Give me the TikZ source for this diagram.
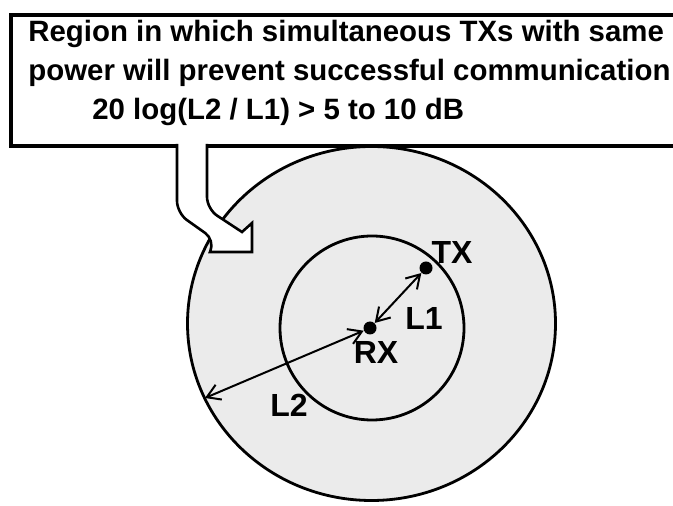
\documentclass[tikz,border=0pt]{standalone}
\usepackage{fontspec}
\setmainfont{Liberation Sans}
\usepackage{xcolor}
\usetikzlibrary{arrows.meta,positioning}

\begin{document}
\begin{tikzpicture}[
  x=0.5pt, y=-0.5pt,
  font=\fontsize{14.7}{17}\selectfont\bfseries,
  zone/.style={draw, line width=1.4pt, fill=black!8},
  dot/.style={circle, fill=black, inner sep=0pt, minimum size=6.5pt},
  lbl/.style={inner sep=0pt, font=\fontsize{16}{18}\selectfont\bfseries},
  line/.style={anchor=base west, inner sep=0pt},
  dimarrow/.style={{Straight Barb[length=6.5pt,width=8pt]}-{Straight Barb[length=6.5pt,width=8pt]}, line width=1pt},
  pointer/.style={draw, fill=white, line width=1.3pt, line join=miter}
]
\useasboundingbox (0,0) rectangle (673,506);

% region with the two ranges
\draw[zone] (371.5,323.5) ellipse [x radius=184, y radius=177];
\draw[zone] (372,328) circle [radius=92];

\node[dot] (rx) at (370,328) {};
\node[dot] (tx) at (426,268) {};
\coordinate (rim) at (205,398);

\draw[dimarrow] (rx) -- (tx);
\draw[dimarrow] (rim) -- (rx);

\node[lbl] (txlabel) at (452,252) {TX};
\node[lbl] (rxlabel) at (376,352) {RX};
\node[lbl] (l1) at (424,318) {L1};
\node[lbl] (l2) at (289,405) {L2};

% note box
\node[draw, line width=2pt, anchor=north west, minimum width=340pt,
  minimum height=65.5pt, inner sep=0pt] (note) at (9,13) {};
\node[line] (first) at (28,42) {Region in which simultaneous TXs with same};
\node[line] (second) at (28,81) {power will prevent successful communication};
\node[line] (third) at (92,120) {20 log(L2 / L1) > 5 to 10 dB};

% bent pointer from the note into the outer ring
\path[pointer] (177,144) [rounded corners=6pt] -- (177,213) -- (215,240)
  [sharp corners] -- (210,252) -- (252,252) -- (252,223) -- (242,232)
  [rounded corners=6pt] -- (207,209) -- (207,144);
\end{tikzpicture}
\end{document}
